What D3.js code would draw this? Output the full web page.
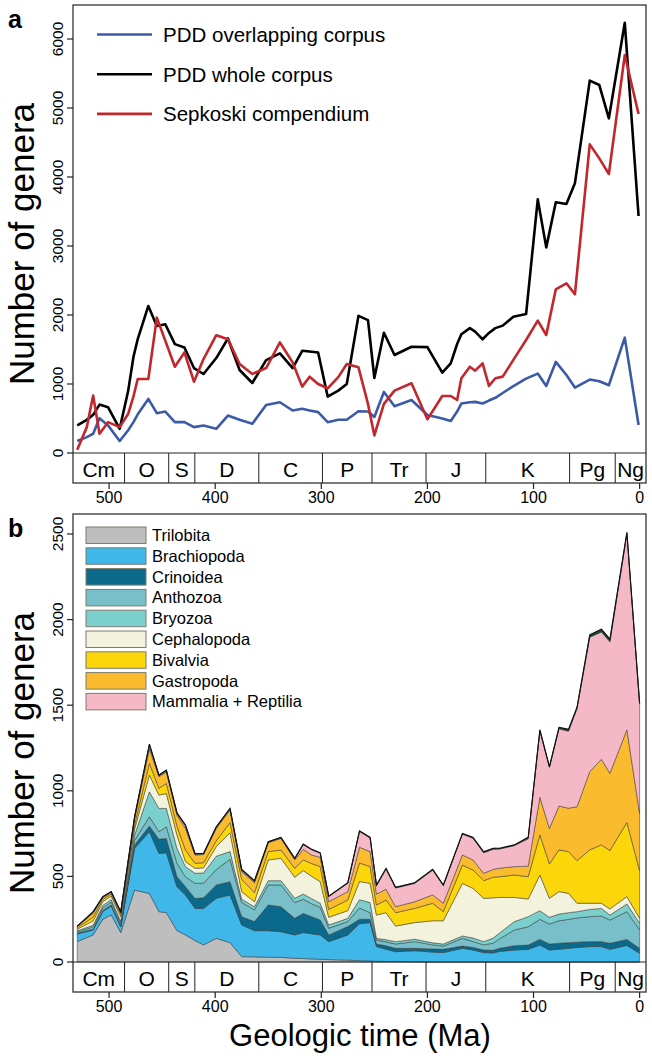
<!DOCTYPE html>
<html>
<head>
<meta charset="utf-8">
<script src="https://cdnjs.cloudflare.com/ajax/libs/d3/7.8.5/d3.min.js"></script>
<style>
	body { margin: 0; background: #fff; }
	svg { display: block; font-family: "Liberation Sans", Arial, Helvetica, sans-serif; }
</style>
</head>
<body>
<div class="container"></div>
<script>
// ---- panel a: genus counts through time (Ma) ----
var lineAges = [530,521,515,509,501,490,482,477,473,463,455,447,438,429,420,411,399,388,377,365,
	352,339,327,318,311,303,294,284,276,265,256,250,241,231,215,200,186,178,172,168,
	160,155,148,142,136,129,119,107,96,88,79,69,61,47,38,29,14,1];

var overlapping = [173,230,279,505,400,173,330,447,560,784,577,601,447,447,375,399,351,543,481,423,
	697,736,616,640,615,592,447,481,481,606,601,522,885,677,768,550,500,464,600,717,
	735,741,717,760,800,870,970,1078,1151,972,1320,1130,948,1064,1040,982,1672,406];

var wholeCorpus = [400,480,553,702,664,351,900,1395,1650,2131,1842,1866,1578,1530,1231,1145,1376,1660,1203,1015,
	1347,1443,1231,1481,1470,1457,818,904,1000,1987,1926,1087,1742,1420,1540,1535,1165,1300,1580,1720,
	1810,1760,1648,1740,1810,1846,1976,2014,3676,2980,3633,3609,3908,5397,5333,4850,6236,3435];

var sepkoski = [48,375,832,279,447,375,568,820,1073,1073,1962,1626,1250,1457,1034,1361,1707,1650,1289,1145,
	1231,1602,1313,962,1106,1000,938,1100,1289,1241,712,255,712,904,1010,488,826,826,768,1083,
	1251,1193,1300,972,1083,1107,1350,1638,1918,1710,2372,2459,2300,4473,4270,4044,5768,4913];

var lineNames = ["PDD overlapping corpus", "PDD whole corpus", "Sepkoski compendium"];
var lineColors = ["#3b5aa8", "#000000", "#c1272d"];

// ---- panel b: stacked genera by taxon ----
var stackAges = [530,515,506,498,489,476,462,453,446,436,428,419,411,399,386,375,363,350,338,325,
	317,309,301,293,275,264,254,248,239,230,212,195,185,167,157,147,138,132,118,105,
	94,85,76,67,59,47,36,28,12,0];

var trilobita = [119,158,249,275,172,420,400,294,288,183,158,125,100,138,113,31,30,28,27,22,
	20,18,16,14,11,8,6,4,3,2,1,0,0,0,0,0,0,0,0,0,0,0,0,0,0,0,0,0,0,0];
var brachiopoda = [45,29,45,52,34,244,361,340,350,257,233,188,213,234,279,185,153,155,150,136,
	152,147,142,105,147,216,224,86,72,58,65,58,55,80,70,55,53,62,70,74,99,70,75,80,85,90,90,74,97,51];
var crinoidea = [4,5,6,6,4,19,33,83,84,58,49,58,62,78,77,49,53,150,146,97,
	112,100,87,39,49,26,19,15,20,20,14,18,19,13,15,15,15,18,25,25,33,35,35,33,31,29,29,35,35,29];
var anthozoa = [7,13,15,17,15,27,54,44,68,78,58,88,85,90,131,82,68,117,127,92,
	82,75,74,39,29,65,39,23,23,25,39,24,19,45,35,30,42,55,92,107,117,117,131,136,141,146,150,136,162,107];
var bryozoa = [7,10,15,15,13,30,146,136,107,88,59,59,60,78,45,19,19,25,25,25,
	31,30,24,19,19,49,59,10,12,14,14,12,12,14,20,19,30,35,49,59,51,39,39,39,37,42,44,29,45,39];
var cephalopoda = [10,25,22,20,27,35,98,78,87,78,29,29,30,56,110,45,29,121,131,123,
	137,130,126,45,45,106,112,136,158,91,97,129,136,307,290,253,235,207,141,103,208,111,131,113,49,36,30,36,43,29];
var bivalvia = [8,22,13,12,15,25,68,39,59,52,68,29,30,34,59,72,53,49,48,52,
	62,75,88,46,62,108,98,59,74,78,83,102,53,107,107,103,120,121,131,130,234,201,244,244,249,312,341,341,433,278];
var gastropoda = [7,23,11,9,10,35,87,68,68,64,126,49,48,72,74,44,58,52,68,49,
	62,50,54,45,49,92,88,64,63,35,39,49,49,59,59,43,46,50,49,62,220,207,256,253,315,457,500,451,541,335];
var mammaliaReptilia = [1,5,2,3,2,7,18,6,5,8,15,5,3,5,4,8,7,3,3,6,
	27,30,24,30,49,92,79,49,118,109,107,145,103,122,127,120,117,112,123,160,388,357,451,450,573,785,744,768,1144,637];
var otherTaxa = [2,4,4,2,2,6,8,4,5,6,5,4,3,5,6,6,5,3,3,4,
	4,3,3,3,3,4,4,4,4,4,4,4,4,4,5,6,6,4,4,9,6,4,9,11,8,14,16,16,9,6];

var taxa = ["Trilobita", "Brachiopoda", "Crinoidea", "Anthozoa", "Bryozoa",
	"Cephalopoda", "Bivalvia", "Gastropoda", "Mammalia + Reptilia"];
var taxaColors = ["#bebebe", "#3fb7e8", "#0b6a8c", "#78bfca", "#7bcfcc",
	"#f3f3dd", "#fbd60b", "#fbbb2e", "#f5b8c7", "#1d4a2e"];

// ---- geologic periods ----
var periodNames = ["Cm", "O", "S", "D", "C", "P", "Tr", "J", "K", "Pg", "Ng"];
var periodStarts = [541, 485.4, 443.8, 419.2, 358.9, 298.9, 252.2, 201.3, 145, 66, 23];
var periodEnds = [485.4, 443.8, 419.2, 358.9, 298.9, 252.2, 201.3, 145, 66, 23, 0];

var ageTicks = [500, 400, 300, 200, 100, 0];
var ticksA = [0, 1000, 2000, 3000, 4000, 5000, 6000];
var ticksB = [0, 500, 1000, 1500, 2000, 2500];


var W = 652, H = 1056;
var svg = d3.select('.container').append('svg')
	.attr('width', W)
	.attr('height', H);

var x = d3.scaleLinear().domain([534, -6]).range([73, 646]);
var yA = d3.scaleLinear().domain([0, 6000]).range([453, 39]);
var yB = d3.scaleLinear().domain([0, 2500]).range([962, 534]);
var stripH = 30;


// frame, period strip and axes for one panel
function drawFrame (y, ticks, top, letter) {
	var g = svg.append('g');
	var base = y(0);
	var dom = x.domain();

	// period boxes, clipped to the plotted range
	var periods = periodNames.map(function (n, i) {
		return {
			name: n,
			x0: x(Math.min(periodStarts[i], dom[0])),
			x1: periodEnds[i] <= 0 ? x.range()[1] : x(periodEnds[i])
		};
	});

	g.append('line')
		.attr('x1', x.range()[0]).attr('x2', x.range()[1])
		.attr('y1', base).attr('y2', base)
		.attr('stroke', '#222').attr('stroke-width', 1);

	g.selectAll('.sep')
		.data(periods.slice(1))
		.enter().append('line')
			.attr('x1', function (d) { return d.x0; })
			.attr('x2', function (d) { return d.x0; })
			.attr('y1', base).attr('y2', base + stripH)
			.attr('stroke', '#222').attr('stroke-width', 1);

	g.selectAll('.plab')
		.data(periods)
		.enter().append('text')
			.attr('x', function (d) { return (d.x0 + d.x1) / 2; })
			.attr('y', base + 23.5)
			.attr('text-anchor', 'middle')
			.style('font-size', '21px')
			.text(function (d) { return d.name; });

	// outer box
	g.append('rect')
		.attr('x', x.range()[0]).attr('y', top)
		.attr('width', x.range()[1] - x.range()[0])
		.attr('height', base + stripH - top)
		.attr('fill', 'none')
		.attr('stroke', '#333').attr('stroke-width', 1.3);

	// x ticks
	var xb = base + stripH;
	g.selectAll('.xt')
		.data(ageTicks)
		.enter().append('line')
			.attr('x1', function (d) { return x(d); })
			.attr('x2', function (d) { return x(d); })
			.attr('y1', xb).attr('y2', xb + 6)
			.attr('stroke', '#222').attr('stroke-width', 1.2);
	g.selectAll('.xl')
		.data(ageTicks)
		.enter().append('text')
			.attr('x', function (d) { return x(d); })
			.attr('y', xb + 20)
			.attr('text-anchor', 'middle')
			.style('font-size', '16px')
			.text(function (d) { return d; });

	// y ticks
	g.selectAll('.yt')
		.data(ticks)
		.enter().append('line')
			.attr('x1', 67).attr('x2', 73)
			.attr('y1', function (d) { return y(d); })
			.attr('y2', function (d) { return y(d); })
			.attr('stroke', '#222').attr('stroke-width', 1.2);
	g.selectAll('.yl')
		.data(ticks)
		.enter().append('text')
			.attr('transform', function (d) { return 'translate(63,' + y(d) + ') rotate(-90)'; })
			.attr('text-anchor', 'middle')
			.style('font-size', '15.5px')
			.text(function (d) { return d; });

	// axis title and panel letter
	g.append('text')
		.attr('transform', 'translate(34,' + ((top + xb) / 2) + ') rotate(-90)')
		.attr('text-anchor', 'middle')
		.style('font-size', '35px')
		.text('Number of genera');

	g.append('text')
		.attr('x', 8).attr('y', top + 23)
		.style('font-size', '25px')
		.style('font-weight', 'bold')
		.text(letter);
}


// ---- panel a ----
var series = [overlapping, wholeCorpus, sepkoski];
var line = d3.line()
	.x(function (d) { return x(d.age); })
	.y(function (d) { return yA(d.v); });

svg.append('g').selectAll('path')
	.data(series.map(function (s) {
		return s.map(function (v, i) { return {age: lineAges[i], v: v}; });
	}))
	.enter().append('path')
		.attr('d', line)
		.attr('fill', 'none')
		.attr('stroke', function (d, i) { return lineColors[i]; })
		.attr('stroke-width', 2.6)
		.attr('stroke-linejoin', 'round');

drawFrame(yA, ticksA, 5, 'a');

var legA = svg.append('g');
lineNames.forEach(function (n, i) {
	var ly = 34.5 + i * 39.7;
	legA.append('line')
		.attr('x1', 97).attr('x2', 152)
		.attr('y1', ly).attr('y2', ly)
		.attr('stroke', lineColors[i]).attr('stroke-width', 2.6);
	legA.append('text')
		.attr('x', 163).attr('y', ly + 7.5)
		.style('font-size', '20.5px')
		.text(n);
});


// ---- panel b ----
var layers = [trilobita, brachiopoda, crinoidea, anthozoa, bryozoa,
	cephalopoda, bivalvia, gastropoda, mammaliaReptilia, otherTaxa];
var keys = d3.range(layers.length);
var rows = stackAges.map(function (a, i) {
	var r = {age: a};
	keys.forEach(function (k) { r[k] = layers[k][i]; });
	return r;
});
var stacked = d3.stack().keys(keys)(rows);

var area = d3.area()
	.x(function (d) { return x(d.data.age); })
	.y0(function (d) { return yB(d[0]); })
	.y1(function (d) { return yB(d[1]); });

svg.append('g').selectAll('path')
	.data(stacked)
	.enter().append('path')
		.attr('d', area)
		.attr('fill', function (d, i) { return taxaColors[i]; })
		.attr('stroke', '#333')
		.attr('stroke-width', 0.5)
		.attr('stroke-linejoin', 'round');

// black outline on the total
svg.append('path')
	.datum(stacked[stacked.length - 1])
	.attr('d', d3.line()
		.x(function (d) { return x(d.data.age); })
		.y(function (d) { return yB(d[1]); }))
	.attr('fill', 'none')
	.attr('stroke', '#111')
	.attr('stroke-width', 1.1);

drawFrame(yB, ticksB, 514, 'b');

var legB = svg.append('g');
taxa.forEach(function (n, i) {
	var ty = 527 + i * 20.8;
	legB.append('rect')
		.attr('x', 86).attr('y', ty)
		.attr('width', 60).attr('height', 16.5)
		.attr('fill', taxaColors[i])
		.attr('stroke', '#7d7d6e').attr('stroke-width', 1);
	legB.append('text')
		.attr('x', 152).attr('y', ty + 14)
		.style('font-size', '16.5px')
		.text(n);
});

svg.append('text')
	.attr('x', 360).attr('y', 1046)
	.attr('text-anchor', 'middle')
	.style('font-size', '31px')
	.text('Geologic time (Ma)');
</script>
</body>
</html>
